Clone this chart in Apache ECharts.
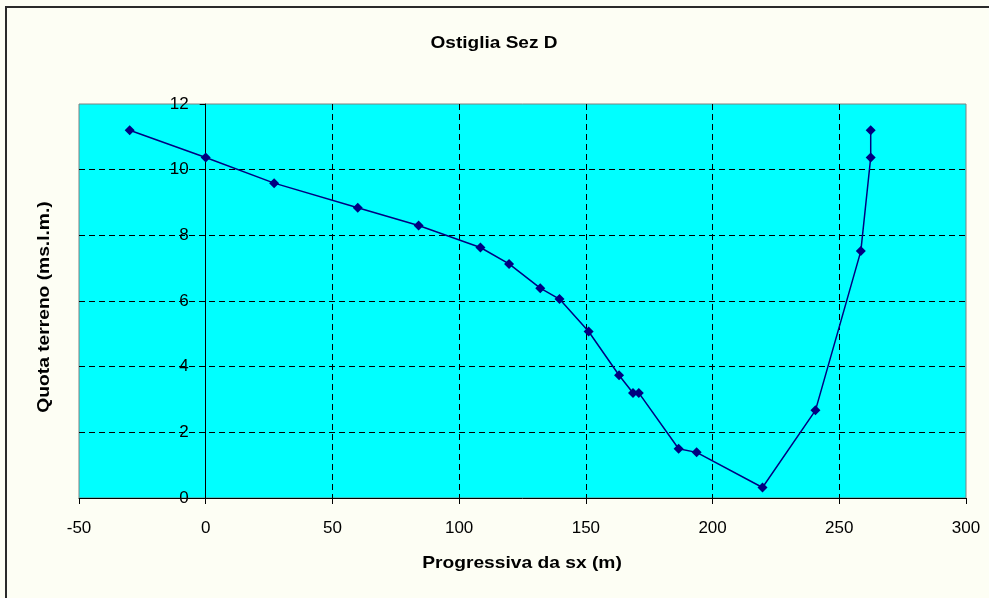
<!DOCTYPE html>
<html>
<head>
<meta charset="utf-8">
<title>Ostiglia Sez D</title>
<script src="https://cdn.jsdelivr.net/npm/echarts@6/dist/echarts.min.js"></script>
<style>
  html, body { margin: 0; padding: 0; background: #FDFEF4; }
  #chart { width: 989px; height: 598px; }
</style>
</head>
<body>
<div id="chart"></div>
<script>
// Cross-section survey: distance from left bank (m) and ground elevation (m s.l.m.)
const progressiva = [-30, 0, 27, 60, 84, 108.4, 119.7, 132, 139.6, 151.1, 163.1, 168.6, 170.9, 186.6, 193.7, 219.7, 240.6, 258.5, 262.4, 262.4];
const quota = [11.2, 10.37, 9.59, 8.84, 8.3, 7.63, 7.13, 6.39, 6.06, 5.07, 3.74, 3.2, 3.2, 1.5, 1.39, 0.32, 2.67, 7.52, 10.37, 11.2];

const chartTitle = 'Ostiglia Sez D';
const xName = 'Progressiva da sx (m)';
const yName = 'Quota terreno (ms.l.m.)';

const xMin = -50, xMax = 300, xStep = 50;
const yMin = 0, yMax = 12, yStep = 2;

const points = progressiva.map((x, i) => [x, quota[i]]);

const W = 989, H = 598;
const gridLeft = 79, gridTop = 104, gridRight = 23, gridBottom = 100;
const plotW = W - gridLeft - gridRight;
// the value axis crosses the horizontal axis at x = 0
const yAxisShift = plotW * (0 - xMin) / (xMax - xMin);

const chart = echarts.init(document.getElementById('chart'));
const font = 'Liberation Sans, Arial, sans-serif';

// bold caption, slightly widened along its reading direction
const boldText = (text, x, y, rot, sx) => ({
  type: 'text',
  x, y,
  rotation: rot,
  scaleX: sx,
  silent: true,
  style: {
    text,
    fontFamily: font, fontSize: 17, fontWeight: 'bold', fill: '#000',
    align: 'center', verticalAlign: 'middle'
  }
});

chart.setOption({
  backgroundColor: '#FDFEF4',
  animation: false,
  graphic: [
    {
      type: 'rect',
      shape: { x: 6, y: 7, width: 1000, height: 620 },
      style: { fill: 'none', stroke: '#2a2a2a', lineWidth: 2 },
      silent: true
    },
    boldText(chartTitle, 494, 43, 0, 1.12),
    boldText(xName, 522, 563, 0, 1.13),
    boldText(yName, 44, 307, Math.PI / 2, 1.13)
  ],
  grid: {
    left: gridLeft, top: gridTop, right: gridRight, bottom: gridBottom,
    show: true,
    backgroundColor: '#00FFFF',
    borderColor: '#808080',
    borderWidth: 1
  },
  xAxis: {
    type: 'value',
    min: xMin, max: xMax, interval: xStep,
    axisLine: { onZero: false, lineStyle: { color: '#000', width: 1 } },
    axisTick: { show: true, length: 6, inside: false, lineStyle: { color: '#000' } },
    axisLabel: { fontFamily: font, fontSize: 17, color: '#000', margin: 22 },
    splitLine: {
      show: true,
      showMinLine: false,
      showMaxLine: false,
      lineStyle: { color: '#000', type: [6, 4], width: 1 }
    }
  },
  yAxis: {
    type: 'value',
    min: yMin, max: yMax, interval: yStep,
    offset: -yAxisShift,
    axisLine: { show: true, onZero: false, lineStyle: { color: '#000', width: 1 } },
    axisTick: { show: true, length: 6, inside: false, lineStyle: { color: '#000' } },
    axisLabel: { fontFamily: font, fontSize: 17, color: '#000', margin: 17 },
    splitLine: {
      show: true,
      showMinLine: false,
      showMaxLine: false,
      lineStyle: { color: '#000', type: [6, 4], width: 1 }
    }
  },
  series: [{
    type: 'line',
    data: points,
    symbol: 'diamond',
    symbolSize: 10,
    itemStyle: { color: '#000080' },
    lineStyle: { color: '#000080', width: 1.5 }
  }]
});
</script>
</body>
</html>
